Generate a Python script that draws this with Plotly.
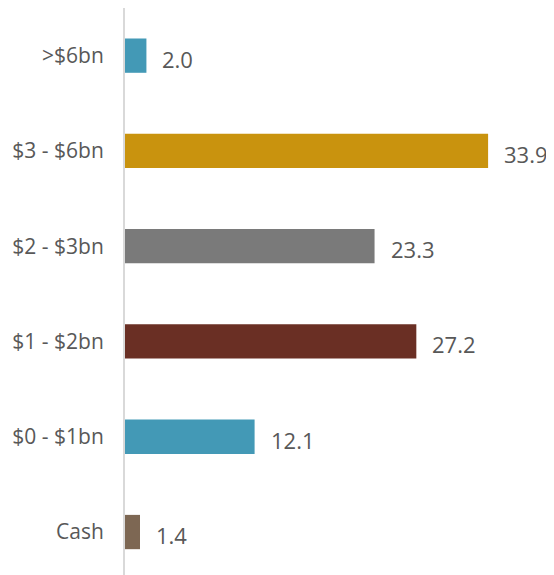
import plotly.graph_objects as go

categories = [">$6bn", "$3 - $6bn", "$2 - $3bn", "$1 - $2bn", "$0 - $1bn", "Cash"]
values = [2.0, 33.9, 23.3, 27.2, 12.1, 1.4]
value_labels = ["2.0", "33.9", "23.3", "27.2", "12.1", "1.4"]
colors = ["#4399b6", "#c9930e", "#7a7a7a", "#6a2f24", "#4399b6", "#7d6753"]

FONT = "Open Sans, Lato, sans-serif"

fig = go.Figure()
fig.add_trace(go.Bar(
    y=categories, x=values, orientation="h",
    marker=dict(color=colors, line=dict(width=0)),
    width=0.36, hoverinfo="skip",
))

for cat, v, lab in zip(categories, values, value_labels):
    fig.add_annotation(x=v, y=cat, text=lab, showarrow=False,
                       xanchor="left", yanchor="middle", xshift=14, yshift=-3,
                       font=dict(family=FONT, size=22, color="#585858"))

fig.update_layout(
    width=554, height=575,
    margin=dict(l=117, r=0, t=0, b=0),
    paper_bgcolor="white", plot_bgcolor="white",
    showlegend=False,
    font=dict(family=FONT, color="#585858"),
    xaxis=dict(range=[0, 40.8], visible=False, showgrid=False, zeroline=False),
    yaxis=dict(
        type="category",
        categoryorder="array",
        categoryarray=list(reversed(categories)),
        range=[-0.535, 5.5],
        showline=True, linecolor="#d9d9d9", linewidth=2,
        showgrid=False, zeroline=False,
        ticks="", ticklabelstandoff=15,
        tickfont=dict(size=21, color="#585858"),
    ),
)

fig.write_html("out.html")
